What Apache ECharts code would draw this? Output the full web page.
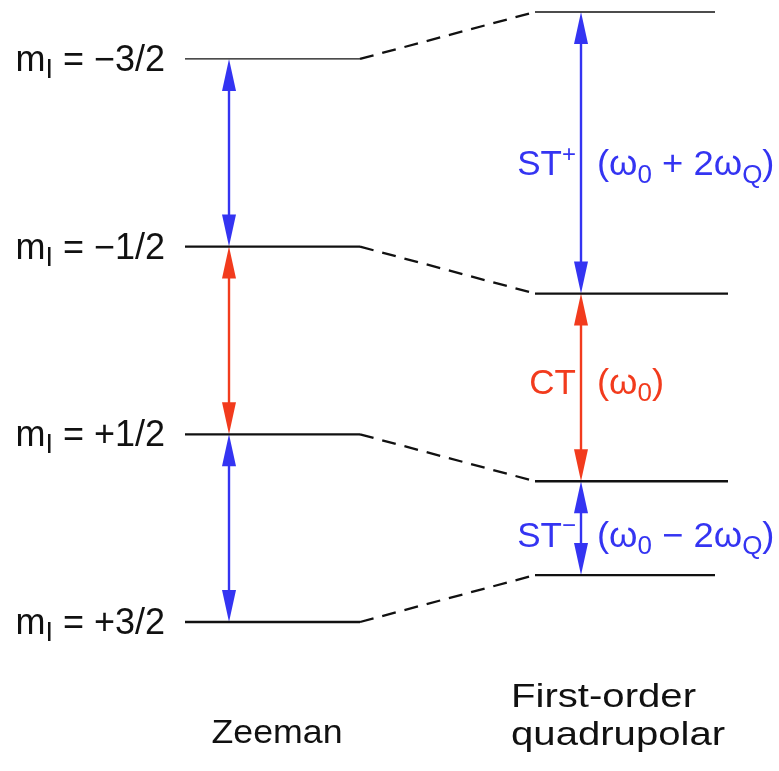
<!DOCTYPE html>
<html>
<head>
<meta charset="utf-8">
<title>Zeeman and first-order quadrupolar levels</title>
<script src="https://cdn.jsdelivr.net/npm/echarts@6/dist/echarts.min.js"></script>
<style>
html,body{margin:0;padding:0;background:#fff;}
#main{width:779px;height:771px;}
</style>
</head>
<body>
<div id="main"></div>
<script>
// spin states and level energies (arbitrary units, w0/2 per step)
var spinStates = ['−3/2', '−1/2', '+1/2', '+3/2'];
var zeemanEnergy = [3, 1, -1, -3];
var quadEnergy = [3.5, 0.5, -1.5, -2.5];
// transitions between neighbouring levels (top to bottom)
var transitionNames = ['ST{sup|+}', 'CT', 'ST{sup|−}'];
var transitionFreqs = ['(ω{sub|0} + 2ω{sub|Q})', '(ω{sub|0})', '(ω{sub|0} − 2ω{sub|Q})'];
var transitionKind = ['ST', 'CT', 'ST'];
var columnTitles = ['Zeeman', 'First-order\nquadrupolar'];

// layout
var FONT = '"Liberation Sans", Arial, Helvetica, sans-serif';
var COLORS = {ST: '#3434f2', CT: '#f23b1d'};
var zeemanX = [185, 360];
var quadX = [535, 715, 728];  //start, end, end of the two middle levels
var arrowX = [229, 581];
var labelShift = [13, -3, 9];  //small vertical nudge of transition labels

var series = [];

// energy levels + dashed correlation lines
spinStates.forEach(function (s, i) {
	var w = i === 0 ? 1.3 : 2.3;
	var end = (i === 1 || i === 2) ? quadX[2] : quadX[1];
	series.push({
		type: 'line', silent: true, clip: false, symbol: 'none',
		data: [[zeemanX[0], zeemanEnergy[i]], [zeemanX[1], zeemanEnergy[i]]],
		lineStyle: {color: '#111', width: w}
	});
	series.push({
		type: 'line', silent: true, clip: false, symbol: 'none',
		data: [[zeemanX[1], zeemanEnergy[i]], [quadX[0], quadEnergy[i]]],
		lineStyle: {color: '#111', width: 2.3, type: [14, 9]}
	});
	series.push({
		type: 'line', silent: true, clip: false, symbol: 'none',
		data: [[quadX[0], quadEnergy[i]], [end, quadEnergy[i]]],
		lineStyle: {color: '#111', width: w}
	});
});

// double headed arrows
var arrowData = [];
transitionKind.forEach(function (k, j) {
	arrowData.push([arrowX[0], zeemanEnergy[j], zeemanEnergy[j + 1], j]);
	arrowData.push([arrowX[1], quadEnergy[j], quadEnergy[j + 1], j]);
});
series.push({
	type: 'custom', clip: false, silent: true,
	data: arrowData,
	renderItem: function (params, api) {
		var p1 = api.coord([api.value(0), api.value(1)]);
		var p2 = api.coord([api.value(0), api.value(2)]);
		var color = COLORS[transitionKind[api.value(3)]];
		var x = p1[0], top = Math.min(p1[1], p2[1]), bot = Math.max(p1[1], p2[1]);
		var hl = 32, hw = 7;
		return {
			type: 'group',
			children: [
				{type: 'line', shape: {x1: x, y1: top + hl - 2, x2: x, y2: bot - hl + 2},
					style: {stroke: color, lineWidth: 2.4}},
				{type: 'polygon', shape: {points: [[x, top], [x - hw, top + hl], [x + hw, top + hl]]},
					style: {fill: color}},
				{type: 'polygon', shape: {points: [[x, bot], [x - hw, bot - hl], [x + hw, bot - hl]]},
					style: {fill: color}}
			]
		};
	}
});

// m_I labels at the left
series.push({
	type: 'custom', clip: false, silent: true,
	data: zeemanEnergy.map(function (e, i) { return [zeemanX[0], e, i]; }),
	renderItem: function (params, api) {
		var p = api.coord([api.value(0), api.value(1)]);
		return {
			type: 'text', x: p[0] - 20, y: p[1] + 2,
			style: {
				text: 'm{sub|I} = ' + spinStates[api.value(2)],
				fill: '#111', fontSize: 36, fontFamily: FONT, lineHeight: 46,
				align: 'right', verticalAlign: 'middle',
				rich: {sub: {fontSize: 27, lineHeight: 29, verticalAlign: 'bottom', fontFamily: FONT, fill: '#111'}}
			}
		};
	}
});

// transition labels
series.push({
	type: 'custom', clip: false, silent: true,
	data: transitionKind.map(function (k, j) {
		return [arrowX[1], (quadEnergy[j] + quadEnergy[j + 1]) / 2, j];
	}),
	renderItem: function (params, api) {
		var j = api.value(2);
		var p = api.coord([api.value(0), api.value(1)]);
		var color = COLORS[transitionKind[j]];
		var y = p[1] + labelShift[j];
		var rich = {
			sub: {fontSize: 25, lineHeight: 31, verticalAlign: 'bottom', fontFamily: FONT, fill: color},
			sup: {fontSize: 24, lineHeight: 35, verticalAlign: 'top', fontFamily: FONT, fill: color}
		};
		return {
			type: 'group',
			children: [
				{type: 'text', x: p[0] - 5, y: y, style: {
					text: transitionNames[j], fill: color, fontSize: 35, fontFamily: FONT, lineHeight: 45,
					align: 'right', verticalAlign: 'middle', rich: rich}},
				{type: 'text', x: p[0] + 16, y: y, scaleX: 1.04, style: {
					text: transitionFreqs[j], fill: color, fontSize: 35, fontFamily: FONT, lineHeight: 45,
					align: 'left', verticalAlign: 'middle', rich: rich}}
			]
		};
	}
});

var myChart = echarts.init(document.getElementById('main'));
var option = {
	animation: false,
	backgroundColor: '#fff',
	grid: {left: 0, right: 0, top: 12, bottom: 149},
	xAxis: {type: 'value', min: 0, max: 779, show: false},
	yAxis: {type: 'value', min: -3, max: 3.5, show: false},
	graphic: [
		{type: 'text', x: 277, y: 734, scaleX: 1.05, style: {
			text: columnTitles[0], fill: '#111', fontSize: 34, fontFamily: FONT,
			align: 'center', verticalAlign: 'middle'}},
		{type: 'text', x: 511, y: 679, scaleX: 1.18, style: {
			text: columnTitles[1], fill: '#111', fontSize: 34, fontFamily: FONT, lineHeight: 38,
			align: 'left', verticalAlign: 'top'}}
	],
	series: series
};
myChart.setOption(option);
</script>
</body>
</html>
